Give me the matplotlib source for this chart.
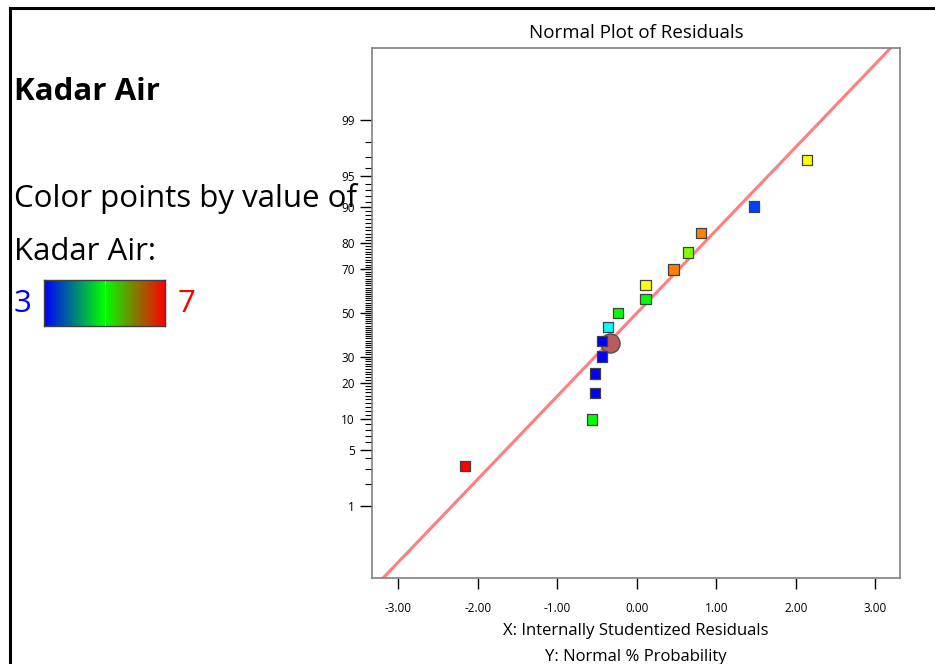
from statistics import NormalDist
import numpy as np
import matplotlib
matplotlib.use("Agg")
import matplotlib.pyplot as plt
from matplotlib.colors import LinearSegmentedColormap

plt.rcParams['font.family'] = ['Open Sans', 'DejaVu Sans']

# residuals (x) and normal % probability (y)
resid = [-2.16, -0.56, -0.53, -0.53, -0.44, -0.44, -0.36, -0.24,
         0.11, 0.11, 0.46, 0.64, 0.81, 1.47, 2.14]
prob = [3.3, 10.0, 16.7, 23.3, 30.0, 36.7, 43.3, 50.0,
        56.7, 63.3, 70.0, 76.7, 83.3, 90.0, 96.7]
point_colors = ['#ff0000', '#00ff00', '#0000ff', '#0000ff', '#0000ff',
                '#0000ff', '#00ffff', '#00ff00', '#00ff00', '#ffff00',
                '#ff8000', '#80ff00', '#ff8000', '#0040ff', '#ffff00']

# highlighted point
sel_x, sel_p = -0.34, 36.0

# reference line end points
line_x = [-3.4, 3.4]
line_p = [0.0337, 99.966]

major_p = [1, 5, 10, 20, 30, 50, 70, 80, 90, 95, 99]
minor_p = list(range(1, 100))
x_ticks = [-3, -2, -1, 0, 1, 2, 3]

nd = NormalDist()


def fwd(p):
    p = np.clip(np.asarray(p, dtype=float), 1e-7, 100 - 1e-7)
    return np.vectorize(lambda v: nd.inv_cdf(v / 100.0))(p)


def inv(z):
    z = np.asarray(z, dtype=float)
    return np.vectorize(lambda v: nd.cdf(v) * 100.0)(z)


fig = plt.figure(figsize=(9.35, 6.64), dpi=100)

# outer frame lines (top and left)
fig.add_artist(plt.Line2D([9.5 / 935, 1.0], [1 - 8 / 664, 1 - 8 / 664],
                          color='black', lw=2.2, transform=fig.transFigure))
fig.add_artist(plt.Line2D([9.5 / 935, 9.5 / 935], [0, 1 - 8 / 664],
                          color='black', lw=2.2, transform=fig.transFigure))

# left panel text
fig.text(14 / 935, 1 - 92 / 664, 'Kadar Air', fontsize=22.5, fontweight='bold',
         va='center', ha='left')
fig.text(14 / 935, 1 - 199 / 664, 'Color points by value of', fontsize=22.5,
         va='center', ha='left')
fig.text(14 / 935, 1 - 252 / 664, 'Kadar Air:', fontsize=22.5,
         va='center', ha='left')
fig.text(22.5 / 935, 1 - 304 / 664, '3', fontsize=22.5, color='#0000ff',
         va='center', ha='center')
fig.text(187 / 935, 1 - 304 / 664, '7', fontsize=22.5, color='#ff0000',
         va='center', ha='center')

cmap = LinearSegmentedColormap.from_list('kadar', ['#0000ff', '#00ff00', '#ff0000'])
cax = fig.add_axes([44 / 935, 1 - 326 / 664, 121 / 935, 46 / 664])
cax.imshow(np.linspace(0, 1, 256)[None, :], cmap=cmap, aspect='auto',
           extent=[0, 1, 0, 1])
cax.axvline(0.5, color='#a0ffa0', lw=0.6)
cax.set_xticks([])
cax.set_yticks([])
for s in cax.spines.values():
    s.set_color('#404040')
    s.set_linewidth(1.0)

# main plot
ax = fig.add_axes([372 / 935, 1 - 578 / 664, 528 / 935, 530 / 664])
ax.set_yscale('function', functions=(fwd, inv))
ax.plot(line_x, line_p, color='#ff7f7f', lw=2.2, zorder=2)
ax.scatter([sel_x], [sel_p], s=190, marker='o', color='#b85c5c',
           edgecolor='#505050', linewidth=1.0, zorder=3)
ax.scatter(resid, prob, s=55, marker='s', c=point_colors,
           edgecolor='#404040', linewidth=0.9, zorder=4)

ax.set_xlim(-3.33, 3.31)
ax.set_ylim(inv(-3.19), inv(3.19))
ax.set_xticks(x_ticks)
ax.set_xticklabels(['%.2f' % v for v in x_ticks])
ax.set_yticks(major_p)
ax.set_yticklabels([str(v) for v in major_p])
ax.set_yticks(minor_p, minor=True)
ax.yaxis.set_minor_formatter(plt.NullFormatter())
ax.tick_params(axis='y', which='major', length=9, width=1.0, labelsize=8.5)
ax.tick_params(axis='y', which='minor', length=5, width=0.8)
ax.tick_params(axis='x', which='major', length=8, width=1.0, labelsize=8.5, pad=9)
ax.xaxis.set_minor_locator(plt.NullLocator())

for s in ax.spines.values():
    s.set_color('#808080')
    s.set_linewidth(1.2)

ax.set_title('Normal Plot of Residuals', fontsize=13.5, pad=7)
fig.text(636 / 935, 1 - 631 / 664, 'X: Internally Studentized Residuals',
         fontsize=12, ha='center', va='center')
fig.text(636 / 935, 1 - 657 / 664, 'Y: Normal % Probability',
         fontsize=12, ha='center', va='center')

fig.savefig('out.png', dpi=100)
